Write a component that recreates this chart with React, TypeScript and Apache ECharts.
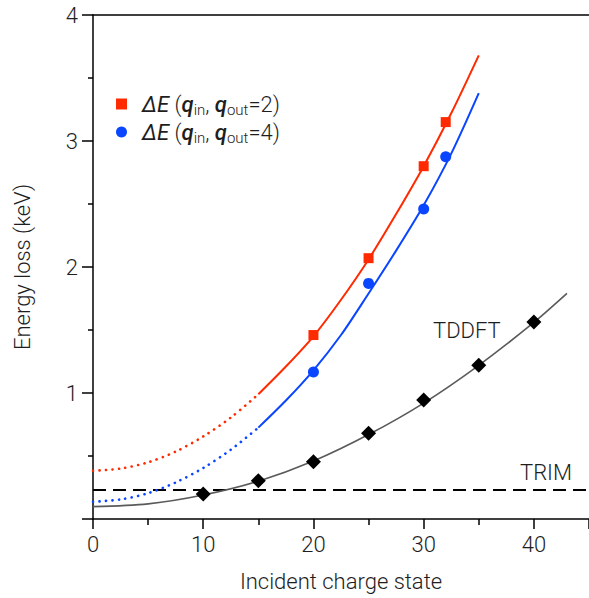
import React, { useEffect, useRef } from 'react';
import * as echarts from 'echarts';

// Measured points
const redPointsX = [20, 25, 30, 32];
const redPointsY = [1.46, 2.07, 2.8, 3.15];
const bluePointsX = [20, 25, 30, 32];
const bluePointsY = [1.167, 1.87, 2.46, 2.875];
const tddftX = [10, 15, 20, 25, 30, 35, 40];
const tddftY = [0.198, 0.304, 0.455, 0.68, 0.944, 1.22, 1.563];

// Fitted curves
const redDotX = [0, 2.5, 5, 7.5, 10, 12.5, 15];
const redDotY = [0.383, 0.4, 0.45, 0.535, 0.655, 0.805, 0.99];
const redFitX = [15, 17.5, 20, 22.5, 25, 27.5, 30, 32.5, 35];
const redFitY = [0.99, 1.21, 1.45, 1.74, 2.06, 2.42, 2.8, 3.22, 3.68];
const blueDotX = [0, 2.5, 5, 7.5, 10, 12.5, 15];
const blueDotY = [0.137, 0.155, 0.205, 0.29, 0.405, 0.55, 0.725];
const blueFitX = [15, 17.5, 20, 22.5, 25, 27.5, 30, 32.5, 35];
const blueFitY = [0.725, 0.94, 1.18, 1.46, 1.79, 2.13, 2.49, 2.9, 3.38];
const tddftFitX = [0, 5, 10, 15, 20, 25, 30, 35, 40, 43];
const tddftFitY = [0.098, 0.12, 0.19, 0.3, 0.46, 0.67, 0.92, 1.22, 1.56, 1.79];
const trimX = [0, 45];
const trimY = [0.23, 0.23];

const xTicks = [0, 10, 20, 30, 40];
const yTicks = [1, 2, 3, 4];

const legendNames = ['dE2', 'dE4'];
const legendQout = ['2', '4'];

const RED = '#ff2a00';
const BLUE = '#0a45ff';
const FONT = 'Roboto';
const TXT = '#1e1e1e';

const zip = (xs: number[], ys: number[]) => xs.map((x, i) => [x, ys[i]]);

export default function App() {
  const ref = useRef<HTMLDivElement>(null);
  useEffect(() => {
    if (!ref.current) return;
    const chart = echarts.init(ref.current, undefined, { renderer: 'svg' });
    const lbl = { fontFamily: FONT, fontWeight: 300, fontSize: 22, color: TXT };
    const curve = (name: string, xs: number[], ys: number[], color: string, width: number, type: any) => ({
      name,
      type: 'line',
      data: zip(xs, ys),
      smooth: 0.3,
      showSymbol: false,
      symbol: 'none',
      silent: true,
      lineStyle: { color, width, type, cap: type === 'solid' ? 'butt' : 'round' },
      z: 2,
    });
    chart.setOption({
      animation: false,
      backgroundColor: '#ffffff',
      grid: { left: 93, top: 15, width: 500, height: 504 },
      legend: {
        left: 111,
        top: 88,
        orient: 'vertical',
        itemWidth: 11,
        itemHeight: 11,
        itemGap: 4,
        data: [
          { name: legendNames[0], icon: 'rect', itemStyle: { color: RED, opacity: 1 } },
          { name: legendNames[1], icon: 'circle', itemStyle: { color: BLUE, opacity: 1 } },
        ],
        formatter: (name: string) => {
          const q = legendQout[legendNames.indexOf(name)];
          return `{i|ΔE}{n| (}{q|q}{s|in}{n|, }{q|q}{s|out}{n|=${q})}`;
        },
        textStyle: {
          rich: {
            i: { fontFamily: FONT, fontStyle: 'italic', fontSize: 22, color: TXT, padding: [0, 0, 0, 10], lineHeight: 26, verticalAlign: 'middle' },
            n: { fontFamily: FONT, fontWeight: 300, fontSize: 22, color: TXT, lineHeight: 26, verticalAlign: 'middle' },
            q: { fontFamily: FONT, fontStyle: 'italic', fontWeight: 500, fontSize: 22, color: TXT, lineHeight: 26, verticalAlign: 'middle' },
            s: { fontFamily: FONT, fontWeight: 300, fontSize: 15, color: TXT, lineHeight: 15, verticalAlign: 'bottom' },
          },
        },
      },
      xAxis: [
        {
          type: 'value',
          min: 0,
          max: 45,
          interval: 10,
          position: 'bottom',
          name: 'Incident charge state',
          nameLocation: 'middle',
          nameGap: 51,
          nameTextStyle: lbl,
          axisLine: { show: true, onZero: false, lineStyle: { color: '#000', width: 1.5 } },
          axisTick: { show: true, inside: false, length: 10, lineStyle: { color: '#000', width: 1.5 } },
          minorTick: { show: true, splitNumber: 2, length: 6, lineStyle: { color: '#000', width: 1.5 } },
          splitLine: { show: false },
          axisLabel: {
            ...lbl,
            margin: 14,
            showMaxLabel: false,
            formatter: (v: number) => (xTicks.includes(v) ? String(v) : ''),
          },
        },
        {
          type: 'value',
          min: 0,
          max: 45,
          position: 'top',
          axisLine: { show: true, onZero: false, lineStyle: { color: '#000', width: 1.5 } },
          axisTick: { show: false },
          axisLabel: { show: false },
          splitLine: { show: false },
        },
      ],
      yAxis: {
        type: 'value',
        min: 0,
        max: 4,
        interval: 1,
        name: 'Energy loss (keV)',
        nameLocation: 'middle',
        nameGap: 60,
        nameTextStyle: lbl,
        axisLine: { show: true, lineStyle: { color: '#000', width: 1.5 } },
        axisTick: { show: true, inside: false, length: 11, lineStyle: { color: '#000', width: 1.5 } },
        minorTick: { show: true, splitNumber: 2, length: 5, lineStyle: { color: '#000', width: 1.5 } },
        splitLine: { show: false },
        axisLabel: {
          ...lbl,
          margin: 15,
          showMinLabel: false,
          formatter: (v: number) => (yTicks.includes(v) ? String(v) : ''),
        },
      },
      graphic: [
        { type: 'text', left: 433, top: 319, style: { text: 'TDDFT', font: `300 22px ${FONT}`, fill: TXT } },
        { type: 'text', left: 520, top: 461, style: { text: 'TRIM', font: `300 22px ${FONT}`, fill: TXT } },
      ],
      series: [
        {
          name: 'trim',
          type: 'line',
          data: zip(trimX, trimY),
          showSymbol: false,
          symbol: 'none',
          silent: true,
          lineStyle: { color: '#000', width: 2, type: [13, 7] },
          z: 1,
        },
        curve('tddftFit', tddftFitX, tddftFitY, '#5a5a5a', 1.6, 'solid'),
        curve('redDot', redDotX, redDotY, RED, 2.6, [0.1, 6.4]),
        curve('redFit', redFitX, redFitY, RED, 2, 'solid'),
        curve('blueDot', blueDotX, blueDotY, BLUE, 2.6, [0.1, 6.4]),
        curve('blueFit', blueFitX, blueFitY, BLUE, 2, 'solid'),
        {
          name: legendNames[0],
          type: 'scatter',
          data: zip(redPointsX, redPointsY),
          symbol: 'rect',
          symbolSize: 10,
          itemStyle: { color: RED, opacity: 1 },
          z: 5,
        },
        {
          name: legendNames[1],
          type: 'scatter',
          data: zip(bluePointsX, bluePointsY),
          symbol: 'circle',
          symbolSize: 11,
          itemStyle: { color: BLUE, opacity: 1 },
          z: 5,
        },
        {
          name: 'tddft',
          type: 'scatter',
          data: zip(tddftX, tddftY),
          symbol: 'diamond',
          symbolSize: 15,
          itemStyle: { color: '#000', opacity: 1 },
          z: 5,
        },
      ],
    });
    return () => chart.dispose();
  }, []);
  return <div ref={ref} style={{ width: 589, height: 598, position: 'absolute', left: 0, top: 0 }} />;
}
